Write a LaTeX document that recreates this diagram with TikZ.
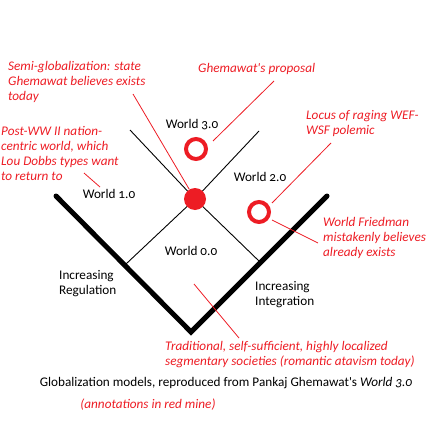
\documentclass[tikz,border=0pt]{standalone}
\usepackage{fontspec}
\setmainfont{Carlito}[Numbers=OldStyle]
\usepackage{xcolor}
\usepackage{tikz}
\usetikzlibrary{calc}
\definecolor{ink}{HTML}{000000}
\definecolor{mark}{HTML}{ED1C24}
\tikzset{
  arm/.style={draw=ink, line width=5pt, line cap=round, line join=miter},
  thin/.style={draw=ink, line width=0.9pt},
  lead/.style={draw=mark, line width=0.8pt},
  ring/.style={circle, draw=mark, line width=4pt, minimum size=20pt, inner sep=0pt},
  bigdot/.style={circle, fill=mark, minimum size=22pt, inner sep=0pt},
  lab/.style={text=ink, font=\fontsize{13.2}{15}\selectfont, inner sep=0pt},
  labl/.style={lab, align=left, anchor=west},
  note/.style={text=mark, font=\fontsize{13.2}{15}\selectfont\itshape, inner sep=0pt, align=left, anchor=west},
}

\begin{document}
\begin{tikzpicture}[x=1pt,y=-1pt]
  \useasboundingbox (0,0) rectangle (429,431);

  % the big V
  \coordinate (vl) at (56,196);
  \coordinate (vb) at (191,332);
  \coordinate (vr) at (327,196);
  \draw[arm] (vl)--(vb)--(vr);

  % crossing lines through the dot
  \coordinate (c) at (195,199);
  \coordinate (ul) at (130,130);
  \coordinate (ur) at (259,131);
  \coordinate (sl) at (126,264);
  \coordinate (sr) at (260,262);
  \draw[thin] (ul)--(c)--(sr);
  \draw[thin] (ur)--(c)--(sl);

  \node[bigdot] (dot) at (c) {};
  \node[ring] (r3) at (196,149) {};
  \node[ring] (r2) at (259,212) {};

  % world labels
  \node[lab] (w3) at (192,125) {World 3.0};
  \node[lab] (w2) at (260,177) {World 2.0};
  \node[lab] (w1) at (109,194) {World 1.0};
  \node[lab] (w0) at (191,251) {World 0.0};
  \node[labl] (reg) at (59,284) {Increasing\\Regulation};
  \node[labl] (integ) at (255,295) {Increasing\\Integration};

  % red notes
  \node[note] (semi) at (8,82) {Semi-globalization: state\\Ghemawat believes exists\\today};
  \node[note] (prop) at (198,69) {Ghemawat\textquotesingle s proposal};
  \node[note] (locus) at (306,124) {Locus of raging WEF-\\WSF polemic};
  \node[note] (post) at (1,153) {Post-WW II nation-\\centric world, which\\Lou Dobbs types want\\to return to};
  \node[note] (fried) at (323,238) {World Friedman\\mistakenly believes\\already exists};
  \node[note] (trad) at (165,355) {Traditional, self-sufficient, highly localized\\segmentary societies (romantic atavism today)};

  % caption
  \node[lab] (cap) at (226,383) {Globalization models, reproduced from Pankaj Ghemawat\textquotesingle s \textit{World 3.0}};
  \node[note, anchor=center] (mine) at (148,405) {(annotations in red mine)};

  % leaders
  \coordinate (semiend) at (133,94);
  \coordinate (postend) at (84,173);
  \coordinate (postto) at (100,187);
  \coordinate (propend) at (274,81);
  \coordinate (propto) at (213,141);
  \coordinate (locend) at (331,143);
  \coordinate (locto) at (272,203);
  \coordinate (friedfrom) at (272,220);
  \coordinate (friedend) at (318,243);
  \coordinate (tradfrom) at (194,284);
  \coordinate (tradend) at (239,338);
  \draw[lead] (semiend)--(dot);
  \draw[lead] (postend)--(postto);
  \draw[lead] (propend)--(propto);
  \draw[lead] (locend)--(locto);
  \draw[lead] (friedfrom)--(friedend);
  \draw[lead] (tradfrom)--(tradend);
\end{tikzpicture}
\end{document}
